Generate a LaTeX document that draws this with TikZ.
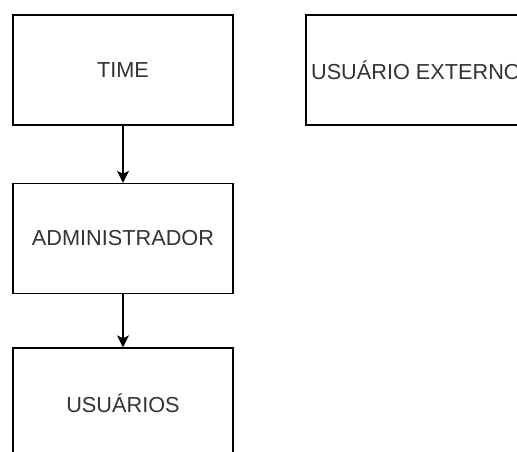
\documentclass[tikz,border=0pt]{standalone}
\usepackage{fontspec}
\setmainfont{Liberation Sans}
\usetikzlibrary{calc,arrows.meta}
\definecolor{labelgray}{HTML}{333333}
\def\entnode{\node[entity]}

\begin{document}
\begin{tikzpicture}[x=1pt,y=1pt,
  entity/.style={draw=black,line width=1.3pt,minimum width=220pt,minimum height=110pt,
    inner sep=0pt,font=\fontsize{21.7}{26}\selectfont,text=labelgray},
  link/.style={draw=black,line width=1.3pt,-{Stealth[length=12pt,width=12pt,inset=3pt]}}]
\useasboundingbox (0,0) rectangle (517,451);
\clip (0,0) rectangle (517,451);
\coordinate (top) at (123,381); % centre of the first box
% the left column hangs below (top)
\entnode (time) at (top) {TIME};
\entnode (admin) at ($ (top) - (0,168.5) $) {ADMINISTRADOR};
\entnode (users) at ($ (top) - (0,333) $) {USUÁRIOS};
% lone box on the right
\entnode (ext) at ($ (top) + (293,0) $) {USUÁRIO EXTERNO};

\draw[link] (time) to (admin);
\draw[link] (admin) to (users);
\end{tikzpicture}
\end{document}
